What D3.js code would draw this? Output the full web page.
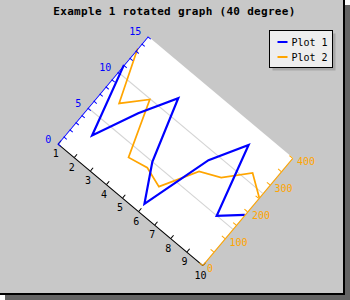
<!DOCTYPE html>
<html>
<head>
<meta charset="utf-8">
<script src="https://cdn.jsdelivr.net/npm/d3@7"></script>
<style>
	body { margin: 0; background: #fff; }
	svg { display: block; }
</style>
</head>
<body>
<svg id="chart" width="350" height="300"></svg>
<script>
// data
var xValues = [1, 2, 3, 4, 5, 6, 7, 8, 9, 10];
var plot1 = [11, 3, 8, 12, 5, 1, 9, 13, 5, 7];
var plot2 = [354, 200, 265, 99, 111, 91, 198, 225, 293, 251];
var yTicks = d3.range(0, 16);
var y2Ticks = d3.range(0, 401, 50);
var yGrid = [5, 10];
var seriesNames = ["Plot 1", "Plot 2"];
var seriesColors = ["#0000ff", "#ffa500"];

var svg = d3.select("#chart");
var font = "'DejaVu Sans Mono', monospace";

// plot size before rotation, and where the (1,0) corner lands
var W = 189, H = 140, angle = 40;
var origin = [58, 143.5];

// frame + shadow
svg.append("rect").attr("x", 345).attr("y", 5).attr("width", 5).attr("height", 295).attr("fill", "#646464");
svg.append("rect").attr("x", 5).attr("y", 295).attr("width", 345).attr("height", 5).attr("fill", "#646464");
svg.append("rect").attr("x", 0).attr("y", 0).attr("width", 343).attr("height", 293).attr("fill", "#c8c8c8");
svg.append("path").attr("d", "M344,0V294H0").attr("fill", "none").attr("stroke", "#000").attr("stroke-width", 2);

// title
svg.append("text")
	.attr("x", 174.5)
	.attr("y", 15)
	.attr("text-anchor", "middle")
	.attr("font-family", font)
	.attr("font-size", 11)
	.attr("font-weight", "bold")
	.attr("letter-spacing", 0.3)
	.text("Example 1 rotated graph (40 degree)");

var xScale = d3.scaleLinear().domain([1, 10]).range([0, W]);
var yScale = d3.scaleLinear().domain([0, 15]).range([0, -H]);
var y2Scale = d3.scaleLinear().domain([0, 400]).range([0, -H]);

var plot = svg.append("g")
	.attr("transform", "translate(" + origin[0] + "," + origin[1] + ") rotate(" + angle + ")");

plot.append("rect")
	.attr("x", 0).attr("y", -H)
	.attr("width", W).attr("height", H)
	.attr("fill", "#fff");

plot.selectAll("line.grid")
	.data(yGrid)
	.enter()
	.append("line")
	.attr("class", "grid")
	.attr("x1", 0).attr("x2", W)
	.attr("y1", function(d) { return yScale(d); })
	.attr("y2", function(d) { return yScale(d); })
	.attr("stroke", "#d4d4d4")
	.attr("stroke-width", 1);

// series
var line1 = d3.line()
	.x(function(d, i) { return xScale(xValues[i]); })
	.y(function(d) { return yScale(d); });
var line2 = d3.line()
	.x(function(d, i) { return xScale(xValues[i]); })
	.y(function(d) { return y2Scale(d); });

plot.append("path")
	.attr("d", line2(plot2))
	.attr("fill", "none")
	.attr("stroke", seriesColors[1])
	.attr("stroke-width", 1.7);

plot.append("path")
	.attr("d", line1(plot1))
	.attr("fill", "none")
	.attr("stroke", seriesColors[0])
	.attr("stroke-width", 2.2);

// axes; labels are turned back upright
function styleAxis(g, color, textFix) {
	g.attr("font-family", font).attr("font-size", 10);
	g.select(".domain").attr("stroke", color);
	g.selectAll(".tick line").attr("stroke", color);
	g.selectAll(".tick text").attr("fill", color).each(function() {
		var t = d3.select(this);
		var tx = +t.attr("x") || 0, ty = +t.attr("y") || 0;
		t.attr("transform", "rotate(" + (-angle) + "," + tx + "," + ty + ")")
			.attr("dx", textFix);
	});
}

var xAxis = d3.axisBottom(xScale)
	.tickValues(xValues)
	.tickSize(-4)
	.tickSizeOuter(0)
	.tickPadding(8);
plot.append("g").attr("class", "xAxis").call(xAxis).call(styleAxis, "#000", 2.5);

var yAxis = d3.axisLeft(yScale)
	.tickValues(yTicks)
	.tickFormat(function(d) { return d % 5 === 0 ? d : ""; })
	.tickSize(-4)
	.tickSizeOuter(0)
	.tickPadding(7);
plot.append("g").attr("class", "yAxis").call(yAxis).call(styleAxis, seriesColors[0], -1);

var y2Axis = d3.axisRight(y2Scale)
	.tickValues(y2Ticks)
	.tickFormat(function(d) { return d % 100 === 0 ? d : ""; })
	.tickSize(-4)
	.tickSizeOuter(0)
	.tickPadding(6);
plot.append("g").attr("class", "y2Axis")
	.attr("transform", "translate(" + W + ",0)")
	.call(y2Axis).call(styleAxis, seriesColors[1], 0);

// legend
var legend = svg.append("g").attr("transform", "translate(269.5,30.5)");
legend.append("rect").attr("x", 3).attr("y", 3).attr("width", 63).attr("height", 37).attr("fill", "#a8a8a8");
legend.append("rect").attr("x", 0).attr("y", 0).attr("width", 63).attr("height", 37)
	.attr("fill", "#eeeeee").attr("stroke", "#000").attr("stroke-width", 1);

var items = legend.selectAll("g.item")
	.data(seriesNames)
	.enter()
	.append("g")
	.attr("class", "item")
	.attr("transform", function(d, i) { return "translate(0," + (11.5 + i * 15) + ")"; });

items.append("line")
	.attr("x1", 8).attr("x2", 18)
	.attr("y1", 0).attr("y2", 0)
	.attr("stroke", function(d, i) { return seriesColors[i]; })
	.attr("stroke-width", 2);

items.append("text")
	.attr("x", 22)
	.attr("y", 3.6)
	.attr("font-family", font)
	.attr("font-size", 10)
	.text(function(d) { return d; });
</script>
</body>
</html>
